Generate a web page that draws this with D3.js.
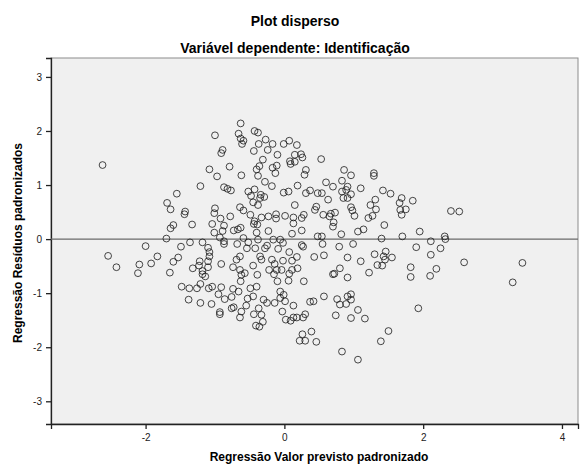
<!DOCTYPE html>
<html>
<head>
<meta charset="utf-8">
<script src="https://cdn.jsdelivr.net/npm/d3@7"></script>
<style>
  body { margin: 0; background: #fff; }
  text { font-family: "Liberation Sans", Arial, sans-serif; }
</style>
</head>
<body>
<div id="chart"></div>
<script>
// labels
var title = "Plot disperso";
var subtitle = "Variável dependente: Identificação";
var xTitle = "Regressão Valor previsto padronizado";
var yTitle = "Regressão Resíduos padronizados";
var xTicks = [-2, 0, 2, 4];
var yTicks = [-3, -2, -1, 0, 1, 2, 3];

// standardized predicted value (x) and standardized residual (y)
var predicted = [
  -2.62,-1.55,-1.69,-1.64,-1.43,-1.44,-1.60,-1.64,-1.33,-1.70,
  -2.00,-2.54,-2.42,-2.09,-2.11,-1.92,-1.83,-1.65,-1.60,-1.53,
  -0.63,-1.00,-0.66,-0.43,-0.38,-0.63,-0.59,-0.61,-0.27,-0.37,
  -0.17,0.07,-0.01,0.18,-0.89,-0.91,-0.44,-0.24,-0.10,0.15,
  -0.31,0.08,0.15,0.09,-1.08,-0.79,-0.36,-0.40,-0.17,-0.11,
  -0.13,-0.97,-0.62,-0.38,-0.28,-0.18,-1.21,-0.87,-0.82,-0.77,
  -0.52,-0.43,-0.48,-0.34,-0.29,-0.35,-0.45,-0.38,-0.01,0.06,
  0.19,0.15,-0.64,-0.59,-1.00,-1.01,-0.92,-0.78,-0.49,-0.43,
  -0.44,-0.39,-0.33,-0.23,-0.12,-0.12,0.01,0.13,0.13,-1.04,
  -0.87,-1.01,-0.89,-0.73,-0.67,-0.63,-0.40,-0.23,0.11,
  -1.36,-1.18,-1.49,-1.10,-1.08,-1.08,-0.93,-0.87,-0.87,-0.68,
  -0.59,-0.52,-0.54,-0.38,-0.42,-0.28,-0.25,-0.16,-0.06,-0.02,
  -0.09,0.07,-1.22,-1.23,-1.32,-1.10,-1.10,-1.18,-1.18,-1.14,
  -0.91,-0.74,-0.64,-0.69,-0.64,-0.62,-0.57,-0.63,-0.45,-0.39,
  -0.35,-0.33,-0.22,-0.18,-0.14,-0.11,-0.15,-0.04,-0.02,0.11,
  0.11,0.06,-0.10,0.19,0.18,0.07,-1.48,-1.37,-1.26,-1.21,
  -1.09,-1.04,-0.91,-0.95,-0.86,-0.74,-0.66,-0.76,-0.49,-0.40,
  -0.45,-0.53,-1.38,-1.21,-1.05,-0.93,-0.93,-0.76,-0.73,-0.55,
  -0.62,-0.64,-0.44,-0.37,-0.33,-0.31,-0.41,-0.36,-0.30,-0.25,
  -0.14,-0.06,-0.01,-0.06,0.01,0.13,-0.03,0.02,0.09,0.13,0.18,
  0.24,0.26,0.53,0.31,0.29,0.37,0.31,0.48,0.54,0.60,
  0.70,0.63,0.86,0.96,0.83,0.91,0.89,0.83,0.96,0.85,
  0.91,1.10,1.29,1.29,1.42,1.53,1.31,1.24,1.32,1.27,
  1.21,1.69,1.66,1.75,1.67,1.69,0.46,0.44,0.28,0.25,
  0.56,0.67,0.73,0.65,0.71,0.70,0.96,0.98,1.01,1.44,
  1.14,1.06,0.82,0.25,0.48,0.54,1.70,
  1.85,1.95,2.31,2.40,2.52,2.32,2.11,1.90,2.25,2.11,
  1.82,1.82,2.19,2.10,2.59,3.43,3.29,1.93,
  1.40,0.27,0.25,0.55,0.79,0.99,0.43,0.57,0.91,1.10,
  1.30,1.46,1.43,1.45,1.55,1.34,1.41,0.80,0.70,0.72,
  0.91,1.22,0.28,0.57,0.37,0.42,0.76,0.80,0.89,0.91,
  0.96,0.96,1.06,0.74,0.96,1.16,0.30,0.27,0.26,0.39,
  0.22,0.30,0.46,0.83,1.06,1.39,1.50
];
var residuals = [
  1.37,0.84,0.67,0.55,0.51,0.46,0.26,0.20,0.27,0.01,
  -0.13,-0.31,-0.52,-0.47,-0.63,-0.45,-0.32,-0.62,-0.42,-0.34,
  2.14,1.92,1.95,2.00,1.97,1.86,1.82,1.76,1.84,1.76,
  1.76,1.82,1.76,1.74,1.65,1.59,1.63,1.65,1.56,1.56,
  1.47,1.44,1.43,1.39,1.29,1.34,1.35,1.29,1.32,1.36,
  1.22,1.16,1.18,1.17,1.06,0.98,0.98,0.96,0.93,0.90,
  0.88,0.92,0.80,0.82,0.78,0.76,0.68,0.63,0.86,0.88,
  0.99,0.63,0.59,0.53,0.57,0.48,0.38,0.42,0.45,0.33,
  0.28,0.27,0.40,0.42,0.46,0.38,0.43,0.40,0.29,0.28,
  0.25,0.12,0.15,0.16,0.18,0.21,0.12,0.15,0.10,
  -0.06,-0.06,-0.14,-0.16,-0.24,-0.32,0.03,-0.04,-0.09,-0.09,
  0.02,-0.06,-0.17,-0.01,-0.17,-0.17,-0.12,-0.01,-0.01,-0.07,
  -0.18,-0.24,-0.41,-0.49,-0.54,-0.41,-0.52,-0.59,-0.65,-0.69,
  -0.46,-0.52,-0.32,-0.38,-0.57,-0.66,-0.63,-0.78,-0.49,-0.66,
  -0.32,-0.38,-0.57,-0.38,-0.46,-0.57,-0.65,-0.57,-0.40,-0.57,
  -0.40,-0.77,-0.78,-0.54,-0.33,-0.64,-0.88,-0.91,-0.91,-0.83,
  -0.91,-0.88,-0.89,-1.02,-1.11,-0.92,-0.97,-1.07,-0.91,-0.88,
  -1.06,-1.10,-1.12,-1.18,-1.20,-1.35,-1.39,-1.28,-1.26,-1.23,
  -1.34,-1.45,-1.39,-1.28,-1.40,-1.53,-1.60,-1.62,-1.12,-1.18,
  -1.18,-0.97,-1.03,-1.09,-1.15,-1.23,-1.34,-1.49,-1.51,-1.45,-1.45,
  1.57,1.51,1.48,1.28,1.19,0.90,0.85,0.85,0.85,1.05,
  0.97,0.73,1.28,1.18,1.08,0.97,0.91,0.88,0.83,0.76,
  0.76,0.94,1.22,1.17,0.90,0.84,0.73,0.63,0.55,0.43,
  0.39,0.76,0.67,0.55,0.54,0.45,0.60,0.54,0.45,0.39,
  0.45,0.47,0.49,0.42,0.31,0.23,0.59,0.53,0.43,0.26,
  0.18,0.14,0.09,0.16,0.05,0.05,0.05,
  0.71,0.14,0.05,0.52,0.51,0.00,-0.04,-0.15,-0.17,-0.29,
  -0.52,-0.70,-0.55,-0.68,-0.43,-0.44,-0.80,-1.28,
  0.01,-0.14,-0.11,-0.09,-0.14,-0.09,-0.33,-0.30,-0.34,-0.41,
  -0.28,-0.23,-0.32,-0.38,-0.34,-0.48,-0.49,-0.54,-0.65,-0.64,
  -0.71,-0.62,-0.78,-1.06,-1.16,-1.15,-1.11,-1.21,-1.20,-1.06,
  -1.02,-1.12,-1.31,-1.41,-1.46,-1.47,-1.39,-1.45,-1.76,-1.71,
  -1.88,-1.88,-1.90,-2.08,-2.23,-1.89,-1.70
];

var W = 580, H = 466;
var margin = { top: 58, right: 2, bottom: 42, left: 51 };
var width = W - margin.left - margin.right,
    height = H - margin.top - margin.bottom;

var x = d3.scaleLinear().domain([-3.363, 4.231]).range([0, width]);
var y = d3.scaleLinear().domain([3.35, -3.42]).range([0, height]);

var svg = d3.select("#chart").append("svg")
  .attr("width", W)
  .attr("height", H);

// titles
svg.append("text")
  .attr("x", 295).attr("y", 26)
  .attr("text-anchor", "middle")
  .style("font-size", "14px").style("font-weight", "bold")
  .text(title);
svg.append("text")
  .attr("x", 295).attr("y", 53)
  .attr("text-anchor", "middle")
  .style("font-size", "14px").style("font-weight", "bold")
  .text(subtitle);

var g = svg.append("g")
  .attr("transform", "translate(" + margin.left + "," + margin.top + ")");

// plot background
g.append("rect")
  .attr("width", width).attr("height", height)
  .attr("fill", "#f0f0f0")
  .attr("stroke", "#8c8c8c")
  .attr("stroke-width", 1);

// axes - plain hyphen for negatives like the original
var xAxis = d3.axisBottom(x).tickValues(xTicks).tickSize(5).tickFormat(function(d) { return String(d); });
var yAxis = d3.axisLeft(y).tickValues(yTicks).tickSize(5).tickFormat(function(d) { return String(d); });

var gx = g.append("g")
  .attr("transform", "translate(0," + height + ")")
  .call(xAxis);
var gy = g.append("g").call(yAxis);

[gx, gy].forEach(function(a) {
  a.select(".domain").attr("stroke", "#222").attr("stroke-width", 1.3);
  a.selectAll(".tick line").attr("stroke", "#222").attr("stroke-width", 1.3);
  a.selectAll(".tick text")
    .style("font-family", "'Liberation Sans', Arial, sans-serif")
    .style("font-size", "10px")
    .attr("fill", "#222");
});
gx.selectAll(".tick text").attr("dy", "0.9em");
gy.selectAll(".tick text").attr("dx", "-0.1em");

// zero reference line
g.append("line")
  .attr("x1", 0).attr("x2", width)
  .attr("y1", y(0)).attr("y2", y(0))
  .attr("stroke", "#6a6a6a")
  .attr("stroke-width", 1.3);

// points
var data = predicted.map(function(d, i) { return { x: d, y: residuals[i] }; });

g.append("g").selectAll("circle")
  .data(data)
  .enter().append("circle")
  .attr("cx", function(d) { return x(d.x); })
  .attr("cy", function(d) { return y(d.y); })
  .attr("r", 3.4)
  .attr("fill", "none")
  .attr("stroke", "#1a1a1a")
  .attr("stroke-opacity", 0.8)
  .attr("stroke-width", 1);

// axis titles
svg.append("text")
  .attr("x", 319).attr("y", 461)
  .attr("text-anchor", "middle")
  .style("font-size", "12px").style("font-weight", "bold")
  .text(xTitle);
svg.append("text")
  .attr("transform", "translate(22,243) rotate(-90)")
  .attr("text-anchor", "middle")
  .style("font-size", "12px").style("font-weight", "bold")
  .text(yTitle);
</script>
</body>
</html>
